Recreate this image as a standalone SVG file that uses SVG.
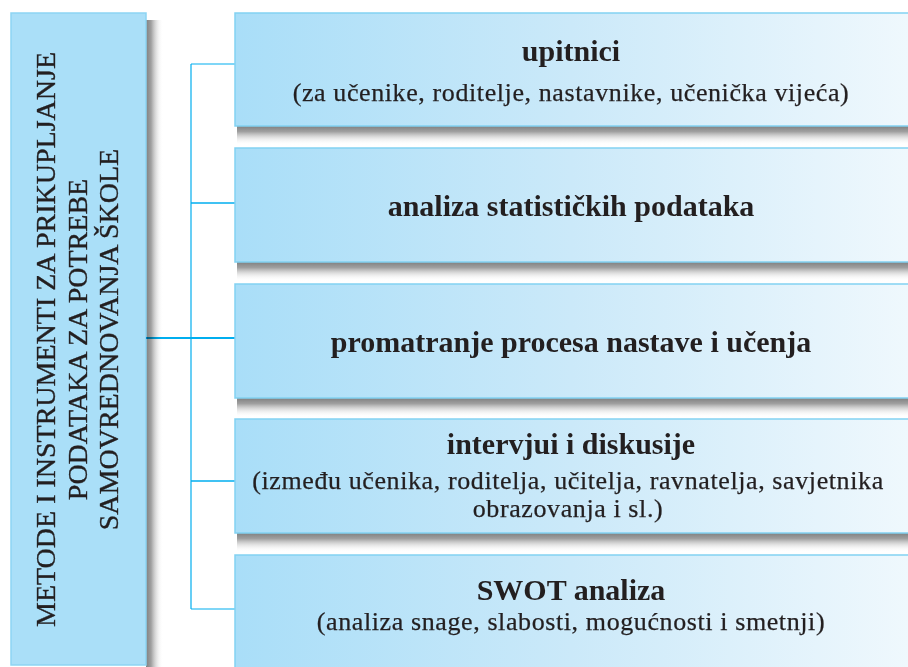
<svg xmlns="http://www.w3.org/2000/svg" width="908" height="667" viewBox="0 0 908 667">
<defs>
<linearGradient id="boxFill" gradientUnits="userSpaceOnUse" x1="235" y1="0" x2="908" y2="0">
<stop offset="0" stop-color="#a9def8"/>
<stop offset="0.5" stop-color="#cbe9f9"/>
<stop offset="1" stop-color="#eff8fd"/>
</linearGradient>
<linearGradient id="shadowDown" x1="0" y1="0" x2="0" y2="1">
<stop offset="0" stop-color="#808080"/>
<stop offset="0.3" stop-color="#a0a0a0"/>
<stop offset="1" stop-color="#ffffff" stop-opacity="0"/>
</linearGradient>
<linearGradient id="shadowRight" x1="0" y1="0" x2="1" y2="0">
<stop offset="0" stop-color="#808080"/>
<stop offset="0.3" stop-color="#a0a0a0"/>
<stop offset="1" stop-color="#ffffff" stop-opacity="0"/>
</linearGradient>
<style>
.box{fill:url(#boxFill);stroke:#82d2f2;stroke-width:1.5}
.lbox{fill:#aadff8;stroke:#8dd5f3;stroke-width:1.5}
.t{font-family:"Liberation Serif","Times New Roman",serif;fill:#231f20;text-anchor:middle}
.title{font-size:30px;font-weight:bold}
.sub{font-size:26px;letter-spacing:0.6px;stroke:#231f20;stroke-width:0.25}
.ltxt{font-size:28px;stroke:#231f20;stroke-width:0.35}
.con{stroke:#00aeef;fill:none}
</style>
</defs>
<rect width="908" height="667" fill="#ffffff"/>

<g id="shadows">
<rect x="146" y="20" width="17" height="647" fill="url(#shadowRight)"/>
<rect x="237" y="126" width="671" height="19" fill="url(#shadowDown)"/>
<rect x="237" y="262" width="671" height="19" fill="url(#shadowDown)"/>
<rect x="237" y="398" width="671" height="19" fill="url(#shadowDown)"/>
<rect x="237" y="533" width="671" height="19" fill="url(#shadowDown)"/>
</g>

<g id="root">
<rect class="lbox" x="11" y="13" width="135" height="652"/>
<text class="t ltxt" transform="translate(55,339.5) rotate(-90)">METODE I INSTRUMENTI ZA PRIKUPLJANJE</text>
<text class="t ltxt" transform="translate(87,339.5) rotate(-90)">PODATAKA ZA POTREBE</text>
<text class="t ltxt" transform="translate(118,339.5) rotate(-90)">SAMOVREDNOVANJA ŠKOLE</text>
</g>

<g id="connectors" style="mix-blend-mode:multiply">
<line class="con" x1="191" y1="64" x2="191" y2="609" stroke-width="1.2"/>
<line class="con" x1="191" y1="64" x2="235" y2="64" stroke-width="1.2"/>
<line class="con" x1="191" y1="203" x2="235" y2="203" stroke-width="1.5"/>
<line class="con" x1="146" y1="338" x2="235" y2="338" stroke-width="2"/>
<line class="con" x1="191" y1="481" x2="235" y2="481" stroke-width="1.5"/>
<line class="con" x1="191" y1="609" x2="235" y2="609" stroke-width="1.2"/>
</g>

<g id="upitnici">
<rect class="box" x="235" y="13" width="690" height="113"/>
<text class="t title" x="571" y="61">upitnici</text>
<text class="t sub" x="571" y="101">(za učenike, roditelje, nastavnike, učenička vijeća)</text>
</g>

<g id="analiza">
<rect class="box" x="235" y="148" width="690" height="114"/>
<text class="t title" x="571" y="216">analiza statističkih podataka</text>
</g>

<g id="promatranje">
<rect class="box" x="235" y="284" width="690" height="114"/>
<text class="t title" x="571" y="352">promatranje procesa nastave i učenja</text>
</g>

<g id="intervjui">
<rect class="box" x="235" y="419" width="690" height="114"/>
<text class="t title" x="571" y="454">intervjui i diskusije</text>
<text class="t sub" x="568" y="489">(između učenika, roditelja, učitelja, ravnatelja, savjetnika</text>
<text class="t sub" x="568" y="517">obrazovanja i sl.)</text>
</g>

<g id="swot">
<rect class="box" x="235" y="555" width="690" height="130"/>
<text class="t title" x="571" y="600">SWOT analiza</text>
<text class="t sub" x="571" y="630">(analiza snage, slabosti, mogućnosti i smetnji)</text>
</g>
</svg>
